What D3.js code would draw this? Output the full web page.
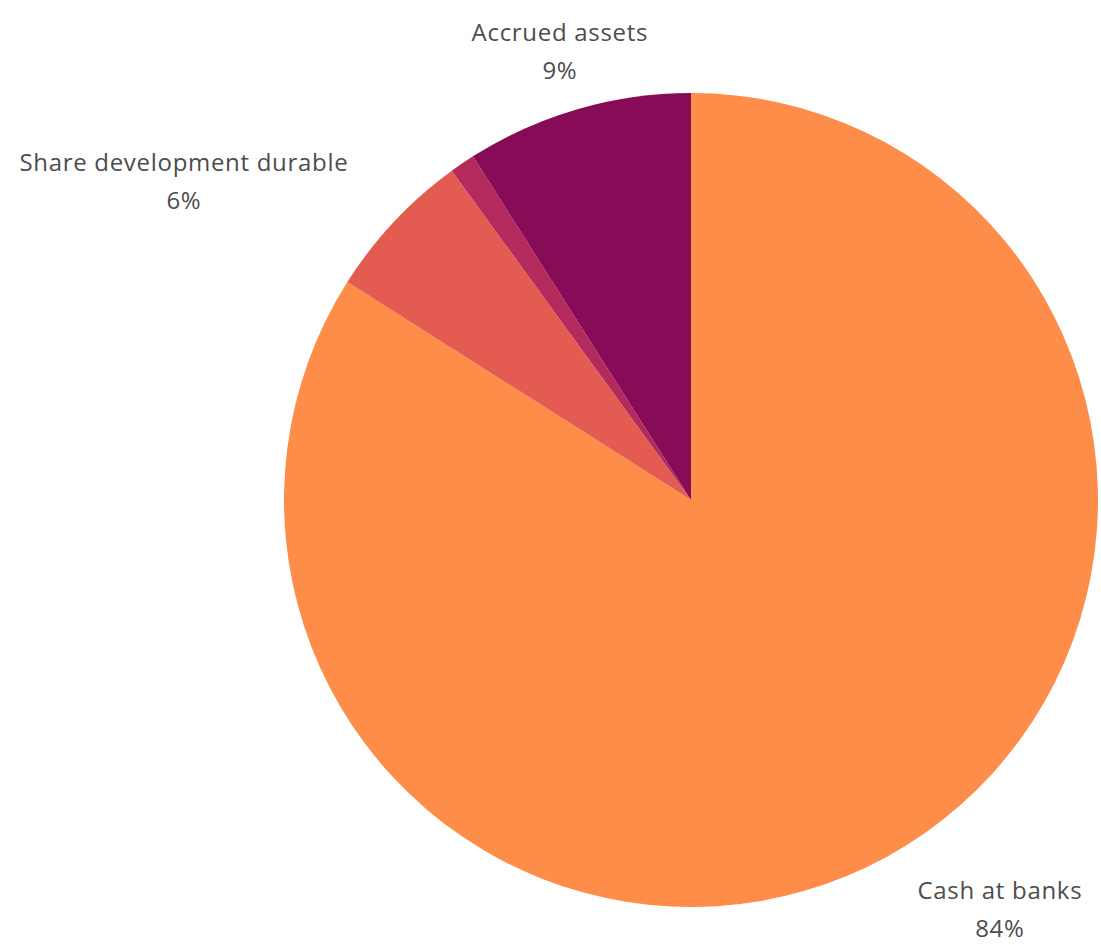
<!DOCTYPE html>
<html>
<head>
<meta charset="utf-8">
<script src="https://cdn.jsdelivr.net/npm/d3@7"></script>
<style>
  html, body { margin: 0; padding: 0; background: #ffffff; }
  svg { display: block; }
  text { font-family: "Open Sans", sans-serif; }
</style>
</head>
<body>
<svg id="chart" width="1101" height="945"></svg>
<script>
const categories = ["Cash at banks", "Share development durable", "Other", "Accrued assets"];
const values = [84, 6, 1, 9];
const showLabel = [true, true, false, true];
const colors = ["#FD8D49", "#E45C51", "#B42A5C", "#870B57"];

const width = 1101, height = 945;
const cx = 691, cy = 500, radius = 407, labelRadius = 470;

const svg = d3.select("#chart");
const g = svg.append("g").attr("transform", `translate(${cx},${cy})`);

const data = categories.map((c, i) => ({ name: c, value: values[i], color: colors[i], show: showLabel[i] }));
const total = d3.sum(values);

const pie = d3.pie().sort(null).value(d => d.value);
const arc = d3.arc().innerRadius(0).outerRadius(radius);
const labelArc = d3.arc().innerRadius(labelRadius).outerRadius(labelRadius);

const arcs = pie(data);

g.selectAll("path.slice")
  .data(arcs)
  .join("path")
  .attr("class", "slice")
  .attr("d", arc)
  .attr("fill", d => d.data.color);

const labels = g.selectAll("g.label")
  .data(arcs.filter(d => d.data.show))
  .join("g")
  .attr("class", "label");

labels.each(function(d) {
  const mid = (d.startAngle + d.endAngle) / 2;
  const s = Math.sin(mid);
  const [lx, ly0] = labelArc.centroid(d);
  let ly = ly0 + 2;
  const sel = d3.select(this);
  const lines = [d.data.name, Math.round(d.data.value / total * 100) + "%"];
  const t = sel.append("text")
    .attr("fill", "#4d4d4d")
    .attr("font-size", 24)
    .attr("letter-spacing", 0.7)
    .attr("text-anchor", "middle");
  t.selectAll("tspan")
    .data(lines)
    .join("tspan")
    .attr("x", 0)
    .attr("y", (l, i) => (i - 0.5) * 38)
    .attr("dominant-baseline", "central")
    .text(l => l);
  const bb = t.node().getBBox();
  let shift = 0;
  if (s < -0.4) shift = -bb.width / 2;
  else if (s > 0.4) shift = bb.width / 2;
  // keep the label block inside the drawing area
  const bottom = cy + ly + bb.y + bb.height;
  if (bottom > height - 1) ly -= bottom - (height - 1);
  sel.attr("transform", `translate(${lx + shift},${ly})`);
});
</script>
</body>
</html>
